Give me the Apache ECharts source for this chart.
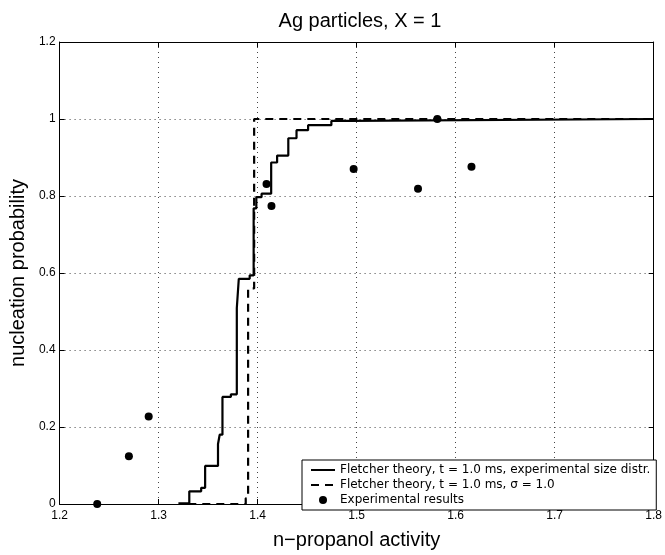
<!DOCTYPE html>
<html>
<head>
    <meta charset="UTF-8">
    <title>Ag particles</title>
    <script src="https://cdn.jsdelivr.net/npm/echarts@6/dist/echarts.min.js"></script>
</head>
<body style="margin:0">
<div id="chart" style="width: 665px;height:555px;"></div>
</body>
</html>

<script>
    // step curve, level after each jump (step: 'end')
    var solidX = [1.32, 1.331, 1.343, 1.347, 1.360, 1.3617, 1.3645, 1.373, 1.379, 1.381, 1.392, 1.396, 1.3987, 1.404, 1.4137, 1.4197, 1.431, 1.4393, 1.451, 1.4745, 1.4944, 1.8];
    var solidY = [0.002, 0.033, 0.042, 0.099, 0.156, 0.18, 0.278, 0.285, 0.509, 0.585, 0.594, 0.768, 0.797, 0.806, 0.887, 0.905, 0.95, 0.971, 0.984, 0.995, 1.0, 1.0];

    var dashX = [1.33, 1.388, 1.3904, 1.3965, 1.8];
    var dashY = [0, 0.015, 0.56, 1.0, 1.0];

    var expX = [1.238, 1.27, 1.29, 1.409, 1.414, 1.497, 1.562, 1.5815, 1.616];
    var expY = [0, 0.124, 0.227, 0.831, 0.774, 0.870, 0.819, 1.0, 0.876];

    var names = [
        'Fletcher theory, t = 1.0 ms, experimental size distr.',
        'Fletcher theory, t = 1.0 ms, σ = 1.0',
        'Experimental results'
    ];

    function pairs(xs, ys) {
        var out = [];
        for (let i = 0; i < xs.length; i++) {
            out.push([xs[i], ys[i]]);
        }
        return out;
    }

    var font = 'Liberation Sans';
    var grid = {type: [1, 4], color: '#444', width: 1};
    var tick = {inside: true, length: 5, lineStyle: {color: '#000'}};
    var hideDot = {color: 'rgba(0,0,0,0)', borderWidth: 0};
    var chart = echarts.init(document.getElementById('chart'));

    var option = {
        animation: false,
        backgroundColor: '#fff',
        title: {
            text: 'Ag particles, X = 1',
            left: 355,
            textAlign: 'center',
            top: 6,
            textStyle: {fontFamily: font, fontSize: 20, fontWeight: 'normal', color: '#000'}
        },
        grid: {left: 54, right: 9, top: 42, bottom: 42},
        legend: {
            orient: 'vertical',
            left: 302,
            top: 460,
            itemWidth: 24,
            itemHeight: 8,
            itemGap: 3,
            padding: [4, 6, 4, 8],
            borderColor: '#000',
            borderWidth: 1,
            backgroundColor: '#fff',
            textStyle: {fontFamily: 'DejaVu Sans', fontSize: 12, color: '#000'},
            data: [
                {name: names[0], itemStyle: hideDot},
                {name: names[1], itemStyle: hideDot},
                {name: names[2], icon: 'circle'}
            ]
        },
        xAxis: [{
            type: 'value',
            min: 1.2, max: 1.8, interval: 0.1,
            name: 'n−propanol activity',
            nameLocation: 'middle',
            nameGap: 26,
            nameTextStyle: {fontFamily: font, fontSize: 20, color: '#000'},
            axisLine: {lineStyle: {color: '#000'}},
            axisTick: tick,
            axisLabel: {fontFamily: font, fontSize: 12, color: '#000', margin: 6,
                formatter: function (v) { return v.toFixed(1); }},
            splitLine: {show: true, lineStyle: grid}
        }, {
            type: 'value', position: 'top',
            min: 1.2, max: 1.8, interval: 0.1,
            axisLine: {onZero: false, lineStyle: {color: '#000'}},
            axisTick: tick,
            axisLabel: {show: false},
            splitLine: {show: false}
        }],
        yAxis: [{
            type: 'value',
            min: 0, max: 1.2, interval: 0.2,
            name: 'nucleation probability',
            nameLocation: 'middle',
            nameGap: 31,
            nameTextStyle: {fontFamily: font, fontSize: 20, color: '#000'},
            axisLine: {show: true, lineStyle: {color: '#000'}},
            axisTick: Object.assign({show: true}, tick),
            axisLabel: {fontFamily: font, fontSize: 12, color: '#000', margin: 4,
                formatter: function (v) { return String(+v.toFixed(1)); }},
            splitLine: {show: true, lineStyle: grid}
        }, {
            type: 'value', position: 'right',
            min: 0, max: 1.2, interval: 0.2,
            axisLine: {show: true, onZero: false, lineStyle: {color: '#000'}},
            axisTick: Object.assign({show: true}, tick),
            axisLabel: {show: false},
            splitLine: {show: false}
        }],
        series: [
            {
                name: names[0],
                type: 'line',
                step: 'end',
                data: pairs(solidX, solidY),
                symbol: 'circle',
                showSymbol: false,
                color: '#000',
                lineStyle: {color: '#000', width: 2.2},
                z: 3
            },
            {
                name: names[1],
                type: 'line',
                step: 'end',
                data: pairs(dashX, dashY),
                symbol: 'circle',
                showSymbol: false,
                color: '#000',
                lineStyle: {color: '#000', width: 2.2, type: [8, 6]},
                z: 3
            },
            {
                name: names[2],
                type: 'scatter',
                data: pairs(expX, expY),
                symbol: 'circle',
                symbolSize: 8,
                itemStyle: {color: '#000', opacity: 1},
                z: 4
            }
        ]
    };

    chart.setOption(option);
</script>
